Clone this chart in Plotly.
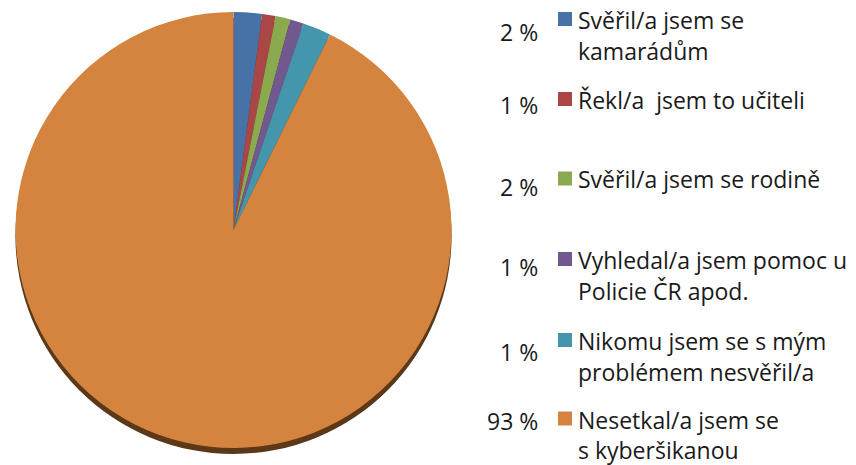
import plotly.graph_objects as go

# ---- data ----
categories = [
    "Svěřil/a jsem se kamarádům",
    "Řekl/a  jsem to učiteli",
    "Svěřil/a jsem se rodině",
    "Vyhledal/a jsem pomoc u Policie ČR apod.",
    "Nikomu jsem se s mým problémem nesvěřil/a",
    "Nesetkal/a jsem se s kyberšikanou",
]
legend_lines = [
    ["Svěřil/a jsem se", "kamarádům"],
    ["Řekl/a  jsem to učiteli"],
    ["Svěřil/a jsem se rodině"],
    ["Vyhledal/a jsem pomoc u", "Policie ČR apod."],
    ["Nikomu jsem se s mým", "problémem nesvěřil/a"],
    ["Nesetkal/a jsem se", "s kyberšikanou"],
]
values = [2.1, 1.0, 1.1, 1.0, 2.1, 92.7]
pct_labels = ["2 %", "1 %", "2 %", "1 %", "1 %", "93 %"]
colors = ["#4672A8", "#A94746", "#8BA94F", "#71588F", "#4496AD", "#D4843F"]

W, H = 856, 465
FONT = "Open Sans"
FS = 23
TXT = "#1a1a1a"

# layout positions (px)
cx, cy, r = 233.5, 230, 218
shadow_dy = 6
entry_y = [20, 100, 179.5, 260, 341, 419.5]
pct_y = [31.5, 105, 186.5, 266.5, 351.5, 420.5]
line_gaps = [31, 31, 31, 31, 31, 30]

def px_x(x):
    return x / W

def px_y(y):
    return 1 - y / H

fig = go.Figure()

# shadow of the 3D pie
fig.add_trace(go.Pie(
    values=[sum(values)], labels=["shadow"],
    marker=dict(colors=["#5a3818"]), textinfo="none", hoverinfo="skip",
    showlegend=False, sort=False,
    domain=dict(x=[px_x(cx - r), px_x(cx + r)],
                y=[px_y(cy + r + shadow_dy), px_y(cy - r + shadow_dy)]),
))

fig.add_trace(go.Pie(
    values=values, labels=categories,
    marker=dict(colors=colors, line=dict(width=0)),
    textinfo="none", sort=False, direction="clockwise", rotation=0,
    showlegend=False,
    domain=dict(x=[px_x(cx - r), px_x(cx + r)],
                y=[px_y(cy + r), px_y(cy - r)]),
))

annotations = []
shapes = []
for i, lines in enumerate(legend_lines):
    y0 = entry_y[i]
    shapes.append(dict(
        type="rect", xref="paper", yref="paper",
        x0=px_x(558), x1=px_x(572), y0=px_y(y0 - 7 - 1), y1=px_y(y0 + 7 - 1),
        fillcolor=colors[i], line=dict(width=0),
    ))
    for j, t in enumerate(lines):
        annotations.append(dict(
            text=t, xref="paper", yref="paper", x=px_x(577),
            y=px_y(y0 + j * line_gaps[i]),
            xanchor="left", yanchor="middle", showarrow=False, borderpad=0,
            font=dict(family=FONT, size=FS, color=TXT),
        ))
    annotations.append(dict(
        text=pct_labels[i], xref="paper", yref="paper", x=px_x(539), y=px_y(pct_y[i]),
        xanchor="right", yanchor="middle", showarrow=False, borderpad=0,
        font=dict(family=FONT, size=FS, color=TXT),
    ))

fig.update_layout(
    width=W, height=H,
    margin=dict(l=0, r=0, t=0, b=0),
    paper_bgcolor="white", plot_bgcolor="white",
    showlegend=False,
    annotations=annotations, shapes=shapes,
)

fig.write_html("out.html", config={"displayModeBar": False},
               post_script="document.body.style.margin='0';")
